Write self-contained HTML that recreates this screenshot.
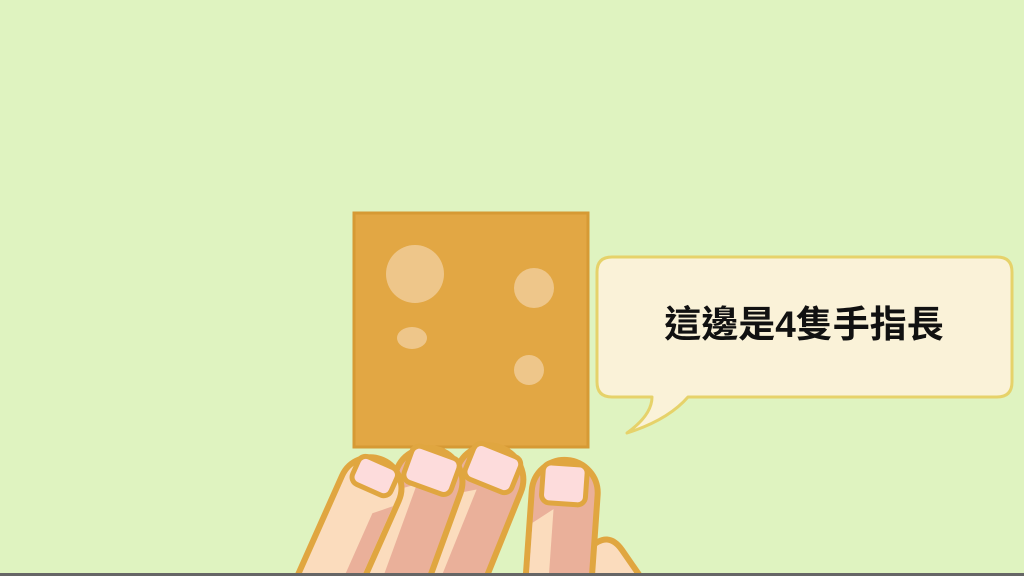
<!DOCTYPE html>
<html><head><meta charset="utf-8">
<style>
html,body{margin:0;padding:0;background:#dff3c0;width:1024px;height:576px;overflow:hidden;}
svg{display:block;}
</style></head>
<body>
<svg id="scene" width="1024" height="576" viewBox="0 0 1024 576">
  <rect width="1024" height="576" fill="#dff3c0"/>
  <g>
    <rect x="354" y="213" width="234" height="234" fill="#e2a744" stroke="#d69a35" stroke-width="3"/>
    <circle cx="415" cy="274" r="29" fill="#eec68a"/>
    <circle cx="534" cy="288" r="20" fill="#eec68a"/>
    <ellipse cx="412" cy="338" rx="15" ry="11" fill="#eec68a"/>
    <circle cx="529" cy="370" r="15" fill="#eec68a"/>
  </g>
  <g>
    <path d="M612 257 H997 Q1012 257 1012 272 V382 Q1012 397 997 397 H688 Q668 420 627 433 Q652 415 652 397 H612 Q597 397 597 382 V272 Q597 257 612 257 Z" fill="#faf2d8" stroke="#e6d26a" stroke-width="3" stroke-linejoin="round"/>
    <text x="804" y="337" text-anchor="middle" font-family="'Liberation Sans','Noto Sans CJK TC',sans-serif" font-size="37" font-weight="bold" fill="#111">這邊是4隻手指長</text>
  </g>
  <g id="hand" stroke="#e0a640" stroke-width="6" stroke-linejoin="round">
    <path d="M590 548 Q608 530 622 550 L640 576 L590 576 Z" fill="#fbdcbd"/>
  </g>
  <rect x="0" y="573" width="1024" height="3" fill="#666"/>
</svg>
<script>
const NS='http://www.w3.org/2000/svg';
const hand=document.getElementById('hand');
// tip x, tip y, angle, width, base colour, strip colour, strip x0, strip x1, strip start
const fingers=[
  [567,460,4,66,'#eab09a','#fbdcbd',-30,-10,50,'finger-4',[-23,4,44,40]],
  [502,448,22,68,'#eab09a','#fbdcbd',-31,-8,48,'finger-3',[-26,3,50,38]],
  [440,450,20,68,'#eab09a','#fbdcbd',-31,-10,40,'finger-2',[-26,3,50,38]],
  [383,460,24,62,'#fbdcbd','#eab09a',12,28,38,'finger-1',[-22,3,42,30]]
];
function yb(f,x){const a=f[2]*Math.PI/180;return (576-f[1]-x*Math.sin(a))/Math.cos(a);}
fingers.forEach(f=>{
  const g=document.createElementNS(NS,'g');
  g.setAttribute('transform','translate('+f[0]+','+f[1]+') rotate('+f[2]+')');
  
  
  const w=f[3]/2;
  const p=document.createElementNS(NS,'path');
  p.setAttribute('d','M'+(-w)+' '+yb(f,-w)+' L'+(-w)+' '+w+' A'+w+' '+w+' 0 0 1 '+w+' '+w+' L'+w+' '+yb(f,w)+' Z');
  p.setAttribute('fill',f[4]);
  g.appendChild(p);
  const s=document.createElementNS(NS,'path');
  s.setAttribute('d','M'+f[6]+' '+(f[8]+15)+' L'+f[7]+' '+f[8]+' L'+f[7]+' '+(yb(f,f[7])-3)+' L'+f[6]+' '+(yb(f,f[6])-3)+' Z');
  s.setAttribute('fill',f[5]);
  s.setAttribute('stroke','none');
  g.appendChild(s);
  const n=document.createElementNS(NS,'rect');
  n.setAttribute('x',f[10][0]);n.setAttribute('y',f[10][1]);
  n.setAttribute('width',f[10][2]);n.setAttribute('height',f[10][3]);
  n.setAttribute('rx',8);n.setAttribute('fill','#fddcdc');n.setAttribute('stroke-width',5);
  
  
  g.appendChild(n);
  hand.appendChild(g);
});
</script>
</body></html>
